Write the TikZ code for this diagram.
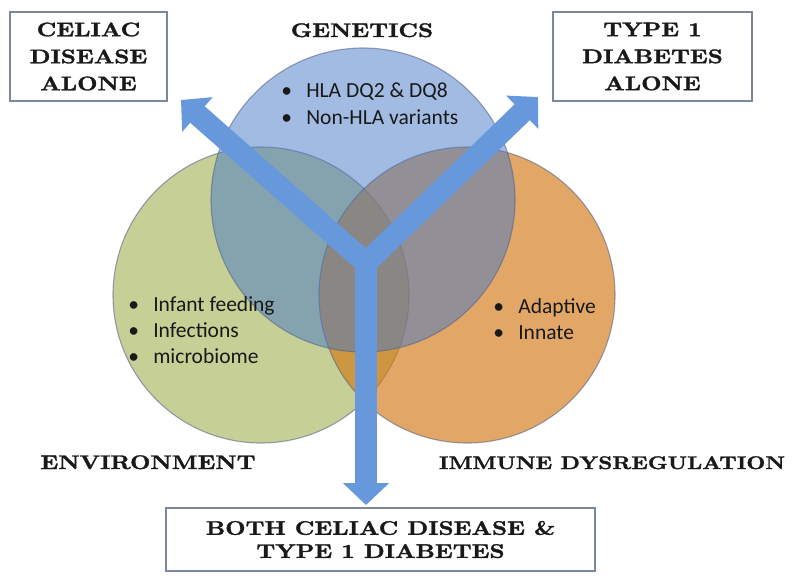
\documentclass[tikz,border=0pt]{standalone}
\usepackage{fontspec}
\usetikzlibrary{arrows.meta}
\newfontfamily\headfont{lmroman10-bold.otf}[FakeStretch=1.2,FakeBold=1.6]
\newfontfamily\listfont{Carlito}
\definecolor{geneC}{RGB}{70,120,200}
\definecolor{envC}{RGB}{160,175,80}
\definecolor{immC}{RGB}{210,120,20}
\definecolor{arrowC}{RGB}{104,152,220}
\definecolor{boxC}{RGB}{125,135,155}
\definecolor{inkC}{RGB}{25,25,25}
\newcommand{\bitem}[1]{\makebox[17.8pt][l]{\textbullet}#1}
\begin{document}
\begin{tikzpicture}[x=0.025cm,y=-0.025cm]
	
		\tikzset{
		  venn/.style={
			draw={rgb,255:red,80;green,95;blue,135},
			draw opacity=0.55,
			line width=0.8pt,
		  },
		  headlabel/.style={
			font=\headfont\fontsize{14}{19}\selectfont,
			text=inkC,
			inner sep=0pt,
			anchor=base,
		  },
		  outcome/.style={
			draw=boxC,
			line width=1pt,
			fill=white,
			align=center,
			inner sep=0pt,
			text=inkC,
			font=\headfont\fontsize{14}{19.2}\selectfont,
		  },
		  factors/.style={
			font=\listfont\fontsize{15.3}{18.5}\selectfont,
			text=inkC,
			align=left,
			anchor=north west,
			inner sep=0pt,
		  },
		  bigarrow/.style={
			draw=arrowC,
			line width=15.6pt,
			-{Triangle[length=15.6pt,width=32pt]},
		  },
		}
		\useasboundingbox (0,0) rectangle (800,581);
		% the three circles
		\draw[venn,fill=envC,fill opacity=0.6] (261,295) circle [radius=148];
		\draw[venn,fill=immC,fill opacity=0.65] (467,295) circle [radius=148];
		\draw[venn,fill=geneC,fill opacity=0.5] (363,200) circle [radius=152];
		\node[factors] (geneList) at (281,83) {\bitem{HLA DQ2 \& DQ8}\\\bitem{Non-HLA variants}};
		\node[factors] (envList) at (128,296) {\bitem{Infant feeding}\\\bitem{Infections}\\\bitem{microbiome}};
		\node[factors] (immList) at (493,298) {\bitem{Adaptive}\\\bitem{Innate}};
		\node[headlabel] (genetics) at (362,37) {GENETICS};
		\node[headlabel] (environment) at (148,469) {ENVIRONMENT};
		\node[headlabel,font=\headfont\fontsize{13}{19}\selectfont] (immune) at (612,469) {IMMUNE DYSREGULATION};
		% outcome boxes
		\node[outcome,minimum width=3.925cm,minimum height=2.225cm] (celiac) at (88.5,56.5) {CELIAC\\DISEASE\\ALONE};
		\node[outcome,minimum width=4.975cm,minimum height=2.225cm] (typeone) at (652.5,56.5) {TYPE 1\\DIABETES\\ALONE};
		\node[outcome,minimum width=10.725cm,minimum height=1.575cm,font=\headfont\fontsize{14}{16.4}\selectfont] (both) at (380.5,539.5) {BOTH CELIAC DISEASE \&\\TYPE 1 DIABETES};
		% arrows
		\coordinate (hub) at (366,263);
		\coordinate (tipCD) at (181,100);
		\coordinate (tipT1) at (538,97);
		\coordinate (tipBoth) at (366,505);
		\draw[bigarrow] (hub) -- (tipCD);
		\draw[bigarrow] (hub) -- (tipT1);
		\draw[bigarrow] (hub) -- (tipBoth);
	
	\end{tikzpicture}
\end{document}
